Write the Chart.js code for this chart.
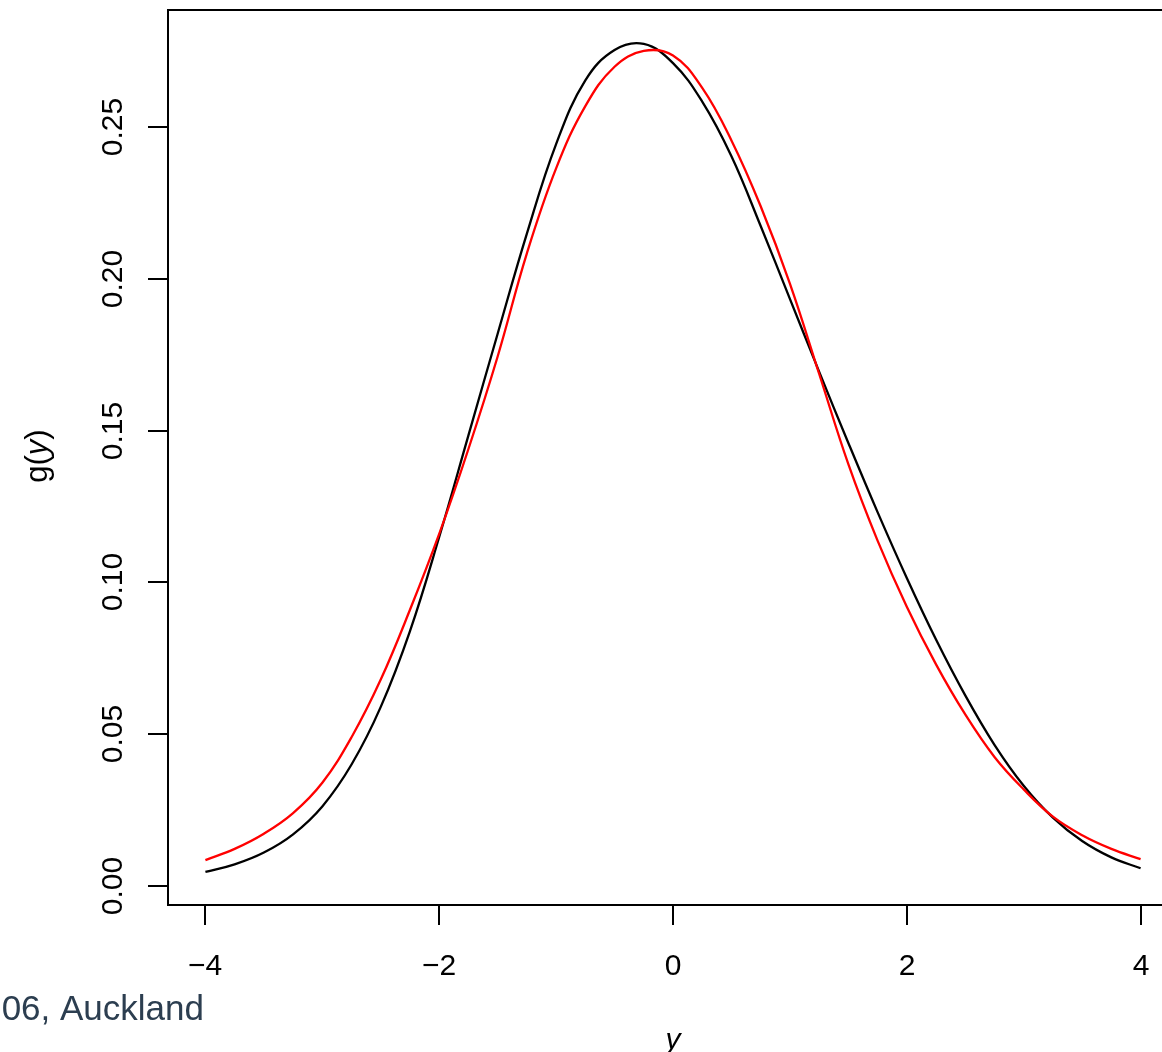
<!DOCTYPE html>
<html>
<head>
<meta charset="utf-8">
<script src="https://cdn.jsdelivr.net/npm/chart.js@4/dist/chart.umd.min.js"></script>
<style>
  html, body { margin: 0; padding: 0; background: #ffffff; overflow: hidden; }
  #wrap { position: absolute; left: 0; top: 0; width: 1200px; height: 1080px; }
</style>
</head>
<body>
<div id="wrap"><canvas id="c" width="1200" height="1080"></canvas></div>
<script>
// ---- data ----
const xGrid = [-4.00, -3.75, -3.50, -3.25, -3.00, -2.75, -2.50, -2.25, -2.00, -1.75, -1.50, -1.25, -1.00, -0.75, -0.50, -0.25, 0.00, 0.25, 0.50, 0.75, 1.00, 1.25, 1.50, 1.75, 2.00, 2.25, 2.50, 2.75, 3.00, 3.25, 3.50, 3.75, 4.00];
const yBlack = [0.0046, 0.0071, 0.0110, 0.0170, 0.0262, 0.0400, 0.0590, 0.0840, 0.1150, 0.1485, 0.1820, 0.2150, 0.2445, 0.2655, 0.2755, 0.2775, 0.2712, 0.2585, 0.2405, 0.2175, 0.1935, 0.1695, 0.1460, 0.1232, 0.1015, 0.0812, 0.0628, 0.0465, 0.0330, 0.0225, 0.0148, 0.0094, 0.0058];
const yRed = [0.0085, 0.0122, 0.0172, 0.0240, 0.0340, 0.0490, 0.0680, 0.0910, 0.1160, 0.1440, 0.1745, 0.2085, 0.2365, 0.2570, 0.2700, 0.2752, 0.2737, 0.2630, 0.2457, 0.2240, 0.1985, 0.1688, 0.1390, 0.1138, 0.0920, 0.0730, 0.0565, 0.0425, 0.0318, 0.0228, 0.0167, 0.0122, 0.0088];

const xTicks = [-4, -2, 0, 2, 4];
const xTickLabels = ['\u22124', '\u22122', '0', '2', '4'];
const yTicks = [0.00, 0.05, 0.10, 0.15, 0.20, 0.25];
const yTickLabels = ['0.00', '0.05', '0.10', '0.15', '0.20', '0.25'];
const xTitle = 'y';
const yTitleParts = ['g(', 'y', ')'];
const footerText = '06, Auckland';

// ---- chart ----
const FONT = '"Liberation Sans", Arial, Helvetica, sans-serif';

const axesPlugin = {
  id: 'rAxes',
  afterDraw(chart) {
    const ctx = chart.ctx;
    const a = chart.chartArea;
    const sx = chart.scales.x, sy = chart.scales.y;
    ctx.save();
    ctx.strokeStyle = '#000';
    ctx.fillStyle = '#000';
    ctx.lineWidth = 2;
    // box
    ctx.strokeRect(a.left, a.top, a.right - a.left, a.bottom - a.top);
    // x ticks
    ctx.font = '30px ' + FONT;
    ctx.textAlign = 'center';
    ctx.textBaseline = 'alphabetic';
    xTicks.forEach((v, i) => {
      const px = Math.round(sx.getPixelForValue(v));
      ctx.beginPath();
      ctx.moveTo(px, a.bottom);
      ctx.lineTo(px, a.bottom + 20);
      ctx.stroke();
      ctx.fillText(xTickLabels[i], px, 975);
    });
    // y ticks
    yTicks.forEach((v, i) => {
      const py = Math.round(sy.getPixelForValue(v));
      ctx.beginPath();
      ctx.moveTo(a.left, py);
      ctx.lineTo(a.left - 20, py);
      ctx.stroke();
      ctx.save();
      ctx.translate(122, py);
      ctx.rotate(-Math.PI / 2);
      ctx.textAlign = 'center';
      ctx.fillText(yTickLabels[i], 0, 0);
      ctx.restore();
    });
    // x title (italic)
    ctx.font = 'italic 30px ' + FONT;
    ctx.textAlign = 'center';
    ctx.fillText(xTitle, sx.getPixelForValue(0), 1049);
    // y title g(y) with italic y
    ctx.save();
    const cy = 456;
    ctx.translate(47, cy);
    ctx.rotate(-Math.PI / 2);
    const fN = '31px ' + FONT, fI = 'italic 31px ' + FONT;
    ctx.font = fN; const w0 = ctx.measureText(yTitleParts[0]).width;
    const w2 = ctx.measureText(yTitleParts[2]).width;
    ctx.font = fI; const w1 = ctx.measureText(yTitleParts[1]).width;
    let x0 = -(w0 + w1 + w2) / 2;
    ctx.textAlign = 'left';
    ctx.font = fN; ctx.fillText(yTitleParts[0], x0, 0); x0 += w0;
    ctx.font = fI; ctx.fillText(yTitleParts[1], x0, 0); x0 += w1;
    ctx.font = fN; ctx.fillText(yTitleParts[2], x0, 0);
    ctx.restore();
    // footer overlay text
    ctx.font = '35px ' + FONT;
    ctx.fillStyle = '#2c3e50';
    ctx.textAlign = 'right';
    ctx.fillText(footerText, 204, 1020);
    ctx.restore();
  }
};

new Chart(document.getElementById('c'), {
  type: 'scatter',
  data: {
    datasets: [
      {
        label: 'red',
        data: xGrid.map((x, i) => ({ x: x, y: yRed[i] })),
        showLine: true,
        borderColor: '#ff0000',
        borderWidth: 2.3,
        pointRadius: 0,
        tension: 0.4,
        order: 0
      },
      {
        label: 'black',
        data: xGrid.map((x, i) => ({ x: x, y: yBlack[i] })),
        showLine: true,
        borderColor: '#000000',
        borderWidth: 2.3,
        pointRadius: 0,
        tension: 0.4,
        order: 1
      }
    ]
  },
  options: {
    responsive: false,
    animation: false,
    events: [],
    layout: { padding: { left: 168, top: 10, right: 22, bottom: 175 } },
    scales: {
      x: { type: 'linear', min: -4.32, max: 4.32, display: false },
      y: { type: 'linear', min: -0.0063, max: 0.2887, display: false }
    },
    plugins: { legend: { display: false }, tooltip: { enabled: false } }
  },
  plugins: [axesPlugin]
});
</script>
</body>
</html>
